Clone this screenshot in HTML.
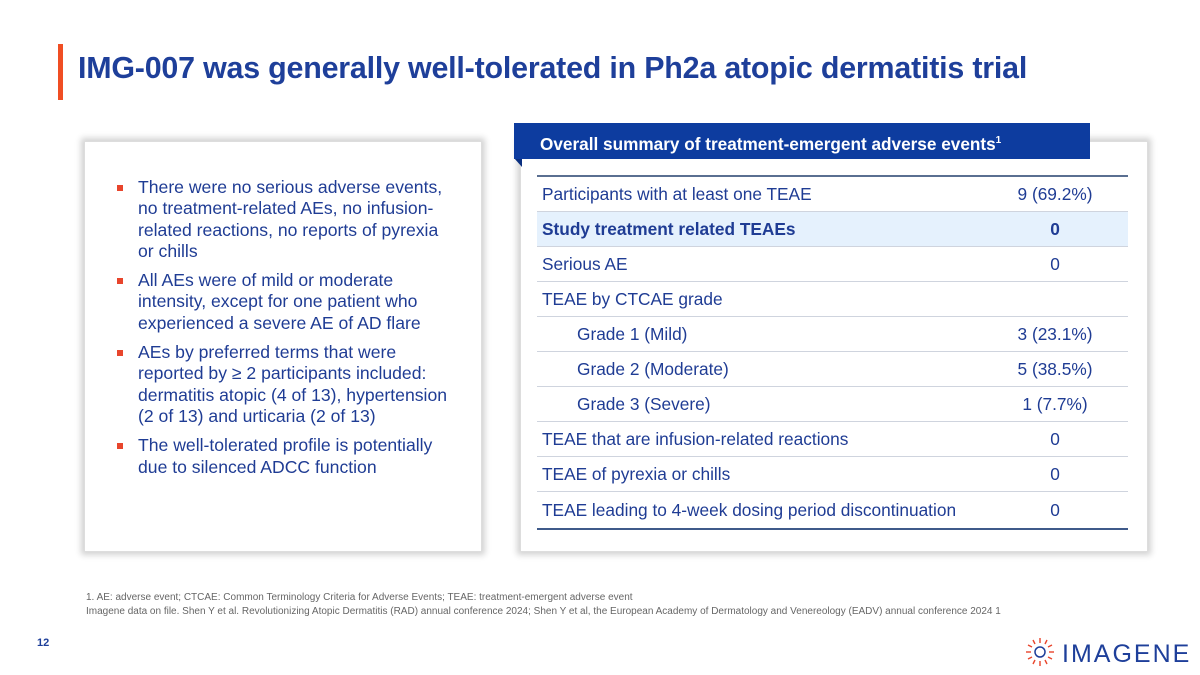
<!DOCTYPE html>
<html><head><meta charset="utf-8"><style>
*{margin:0;padding:0;box-sizing:border-box}
body{width:1200px;height:675px;background:#fff;font-family:"Liberation Sans",Arial,sans-serif;position:relative;overflow:hidden;color:#1f3c94}
.abs{position:absolute}
.title{left:78px;top:51px;font-size:30.4px;font-weight:bold;color:#1e3f9a;white-space:nowrap;letter-spacing:-0.2px}
.box{background:#fff;box-shadow:0 0 6px 3px rgba(0,0,0,0.18);border:1px solid #ddd}
ul{list-style:none}
li{position:relative;padding-left:21px;font-size:17.6px;line-height:21.3px;margin-bottom:8px;color:#1f3c94}
li::before{content:"";position:absolute;left:0;top:8px;width:6px;height:6px;background:#e8452c}
.row{position:absolute;left:537px;width:591px;height:35px;border-bottom:1.5px solid #cfd4de;font-size:17.3px;line-height:35px;color:#1f3c94}
.row .l{position:absolute;left:5px;white-space:nowrap}
.row .v{position:absolute;left:975px;width:160px;text-align:center;margin-left:-537px}
.fn{left:86px;font-size:10px;color:#666;white-space:nowrap}
</style></head><body>
<div class="abs" style="left:58px;top:44px;width:5px;height:56px;background:#f04e23"></div>
<div class="abs title">IMG-007 was generally well-tolerated in Ph2a atopic dermatitis trial</div>

<div class="abs box" style="left:84px;top:141px;width:398px;height:411px"></div>
<ul class="abs" style="left:117px;top:177px;width:332px">
<li>There were no serious adverse events, no treatment-related AEs, no infusion-related reactions, no reports of pyrexia or chills</li>
<li>All AEs were of mild or moderate intensity, except for one patient who experienced a severe AE of AD flare</li>
<li>AEs by preferred terms that were reported by ≥ 2 participants included: dermatitis atopic (4 of 13), hypertension (2 of 13) and urticaria (2 of 13)</li>
<li>The well-tolerated profile is potentially due to silenced ADCC function</li>
</ul>

<div class="abs box" style="left:520px;top:141px;width:628px;height:411px"></div>
<div class="abs" style="left:514px;top:158px;width:0;height:0;border-left:8px solid transparent;border-top:9px solid #0a2f80"></div>
<div class="abs" style="left:514px;top:123px;width:576px;height:36px;background:#0d3c9f;color:#fff;font-weight:bold;font-size:17.2px;line-height:36px;padding-left:26px;white-space:nowrap">Overall summary of treatment-emergent adverse events<sup style="font-size:10px;vertical-align:7px">1</sup></div>

<div class="abs" style="left:537px;top:175px;width:591px;height:2px;background:#5a6f91"></div>
<div class="row" style="top:177px"><span class="l">Participants with at least one TEAE</span><span class="v">9 (69.2%)</span></div>
<div class="row" style="top:212px;background:#e5f1fd;font-weight:bold"><span class="l">Study treatment related TEAEs</span><span class="v">0</span></div>
<div class="row" style="top:247px"><span class="l">Serious AE</span><span class="v">0</span></div>
<div class="row" style="top:282px"><span class="l">TEAE by CTCAE grade</span></div>
<div class="row" style="top:317px"><span class="l" style="left:40px">Grade 1 (Mild)</span><span class="v">3 (23.1%)</span></div>
<div class="row" style="top:352px"><span class="l" style="left:40px">Grade 2 (Moderate)</span><span class="v">5 (38.5%)</span></div>
<div class="row" style="top:387px"><span class="l" style="left:40px">Grade 3 (Severe)</span><span class="v">1 (7.7%)</span></div>
<div class="row" style="top:422px"><span class="l">TEAE that are infusion-related reactions</span><span class="v">0</span></div>
<div class="row" style="top:457px"><span class="l">TEAE of pyrexia or chills</span><span class="v">0</span></div>
<div class="row" style="top:493px;height:37px;border-bottom:2px solid #3f5a8a"><span class="l">TEAE leading to 4-week dosing period discontinuation</span><span class="v">0</span></div>

<div class="abs fn" style="top:592px">1. AE: adverse event; CTCAE: Common Terminology Criteria for Adverse Events; TEAE: treatment-emergent adverse event</div>
<div class="abs fn" style="top:606px">Imagene data on file. Shen Y et al. Revolutionizing Atopic Dermatitis (RAD) annual conference 2024; Shen Y et al, the European Academy of Dermatology and Venereology (EADV) annual conference 2024 1</div>
<div class="abs" style="left:37px;top:637px;font-size:11px;font-weight:bold;color:#1e3f9a">12</div>

<svg class="abs" style="left:1020px;top:632px" width="40" height="40" viewBox="0 0 40 40">
<g stroke="#e8452c" stroke-width="1.4">
<line x1="20" y1="6" x2="20" y2="11"/><line x1="27" y1="8" x2="25" y2="12"/><line x1="32" y1="13" x2="28" y2="15"/><line x1="34" y1="20" x2="29" y2="20"/><line x1="32" y1="27" x2="28" y2="25"/><line x1="27" y1="32" x2="25" y2="28"/><line x1="20" y1="34" x2="20" y2="29"/><line x1="13" y1="32" x2="15" y2="28"/><line x1="8" y1="27" x2="12" y2="25"/><line x1="6" y1="20" x2="11" y2="20"/><line x1="8" y1="13" x2="12" y2="15"/><line x1="13" y1="8" x2="15" y2="12"/>
</g><circle cx="20" cy="20" r="5" fill="none" stroke="#1e3f9a" stroke-width="1.5"/></svg>
<div class="abs" style="left:1062px;top:640px;font-size:25px;letter-spacing:2px;color:#1e3f9a;font-weight:normal">IMAGENE</div>
</body></html>
